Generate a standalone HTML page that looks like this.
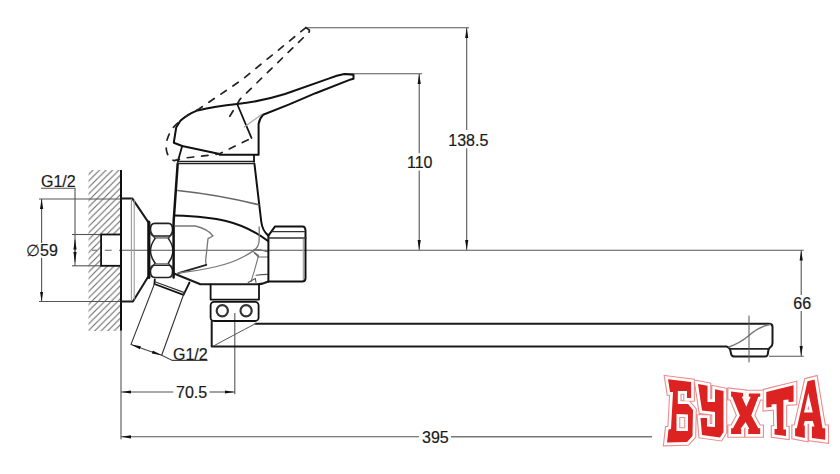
<!DOCTYPE html>
<html><head><meta charset="utf-8">
<style>
html,body{margin:0;padding:0;background:#fff;width:840px;height:474px;overflow:hidden}
svg{display:block}
text{font-family:"Liberation Sans",sans-serif;fill:#1a1a1a;stroke:#1a1a1a;stroke-width:0.2}
</style></head><body>
<svg width="840" height="474" viewBox="0 0 840 474">
<defs>
<pattern id="hatch" patternUnits="userSpaceOnUse" width="6.5" height="6.5" x="3.1" y="0">
<path d="M-1,7.5 L7.5,-1 M-1,1 L1,-1 M5.5,7.5 L7.5,5.5" stroke="#666" stroke-width="1.05"/>
</pattern>
<marker id="ar" viewBox="0 0 10 4" refX="10" refY="2" markerWidth="10" markerHeight="4" markerUnits="userSpaceOnUse" orient="auto-start-reverse">
<path d="M0,0.4 L10,2 L0,3.6 z" fill="#111"/>
</marker>
</defs>

<!-- wall hatch -->
<rect x="88.5" y="170" width="32.5" height="161" fill="url(#hatch)"/>
<rect x="101" y="234.5" width="20" height="31.3" fill="#fff"/>

<g fill="none" stroke="#555" stroke-width="1.1">
<!-- top dims -->
<path d="M305,27.7 H469"/>
<path d="M344,73.7 H422"/>
<path d="M466.7,130 V28" marker-end="url(#ar)"/>
<path d="M466.7,148.3 V250" marker-end="url(#ar)"/>
<path d="M419.2,153.3 V74" marker-end="url(#ar)"/>
<path d="M419.2,170.6 V250" marker-end="url(#ar)"/>
<!-- centerline -->
<path d="M121,250.2 H803.7"/>
<path d="M92,250.3 H97 M104.8,250.3 H111.7 M119,250.3 H121" stroke="#666"/>
<!-- 66 -->
<path d="M801.2,295 V250.5" marker-end="url(#ar)"/>
<path d="M801.2,311 V356" marker-end="url(#ar)"/>
<path d="M769,356.2 H803.7"/>
<!-- 70.5 -->
<path d="M173.3,392 H121" marker-end="url(#ar)"/>
<path d="M209.5,392 H234.6" marker-end="url(#ar)"/>
<path d="M234.8,313 V394.3"/>
<!-- 395 -->
<path d="M419,436.8 H121" marker-end="url(#ar)"/>
<path d="M451,436.8 H652" stroke-width="1.6" stroke="#777"/>
<path d="M121,330 V439.3"/>
<!-- diameter 59 -->
<path d="M39,199 H121"/>
<path d="M39,301.5 H121"/>
<path d="M41.6,243 V199" marker-end="url(#ar)"/>
<path d="M41.6,258 V301.5" marker-end="url(#ar)"/>
<!-- G1/2 top -->
<path d="M41,188.3 H75 V266"/>
<path d="M72,234.5 H101"/>
<path d="M72,265.8 H101"/>
<path d="M75,250 V239.5" marker-end="url(#ar)"/>
<path d="M75,250 V262" marker-end="url(#ar)"/>
</g>

<!-- wall line -->
<path d="M121,170 V330.5" stroke="#111" stroke-width="2" fill="none"/>
<!-- pipe end -->
<rect x="101.1" y="234.5" width="19.8" height="31.3" fill="none" stroke="#111" stroke-width="1.8"/>


<!-- ===== FAUCET ===== -->
<g fill="none" stroke-linejoin="round" stroke-linecap="round">
<!-- flange -->
<path d="M121,198.6 H132.4 L148.6,222.6 V276 L132.9,301.6 H121" stroke="#1a1a1a" stroke-width="2"/>
<path d="M131.4,199 V300 M134.2,200 V299" stroke="#999" stroke-width="1.1"/>
<path d="M148.9,222 V277.5" stroke="#111" stroke-width="3"/>
<!-- nut -->

<path d="M154.8,223.4 H168.4 Q172.6,223.4 172.6,229.6 Q172.6,236.2 168.4,236.2 H154.8 Q150.4,236.2 150.4,229.6 Q150.4,223.4 154.8,223.4 Z" stroke="#222" stroke-width="1.7"/>
<path d="M154.8,265.2 H168.4 Q172.6,265.2 172.6,271.3 Q172.6,277.5 168.4,277.5 H154.8 Q150.4,277.5 150.4,271.3 Q150.4,265.2 154.8,265.2 Z" stroke="#222" stroke-width="1.7"/>
<path d="M155,237.6 H168.4 M155,264 H168.4" stroke="#888" stroke-width="2.2"/>
<path d="M155,238.6 Q146,250.8 155,263 M168.4,238.6 Q177.4,250.8 168.4,263" stroke="#222" stroke-width="1.5"/>
<path d="M150.4,231 L155,238.6 M172.8,231 L168.4,238.6 M150.4,270 L155,263 M172.8,270 L168.4,263" stroke="#333" stroke-width="1.2"/>
<!-- body -->
<path d="M177.7,163.5 L173.6,222 V277.5" stroke="#111" stroke-width="2.5"/>
<path d="M254.4,163.5 L261.3,222 Q262.5,231 268.4,235.6" stroke="#111" stroke-width="2"/>
<path d="M177.7,161.5 H254.4 M177.7,163.6 H254.4" stroke="#222" stroke-width="1.3"/>
<path d="M177.7,190.5 Q220,195 258.6,204.8" stroke="#666" stroke-width="1.6"/>
<path d="M175,215.5 C215,217 240,220 268,241" stroke="#111" stroke-width="2"/>
<path d="M175,226 H195.3 Q208,229 213,236 L208,238.6 L205.6,261 L206.3,264.8" stroke="#777" stroke-width="1.3"/>
<path d="M206.3,264.8 L178.4,273.2" stroke="#222" stroke-width="1.8"/>
<path d="M178,273 Q222,268 241,258 Q253,252 256.5,248 Q259.2,245 259.2,239 V227" stroke="#777" stroke-width="1.3"/>
<path d="M252.7,251.3 L258.6,255.5 L254.4,270.7 L251,281.6" stroke="#777" stroke-width="1.1"/>
<path d="M253.7,249.8 H260 L268,252 M254.5,253 L258.5,257 H268" stroke="#666" stroke-width="1.1"/>
<path d="M248.2,282.5 L255.3,278.4 L256,282.5 M256,275.2 Q262,274.4 267.2,274.4" stroke="#555" stroke-width="1.1"/>

<!-- body bottom -->
<path d="M174,273.5 L200.4,284.3 H257 Q263,284 268.4,281.5" stroke="#1a1a1a" stroke-width="2"/>
<!-- right fitting -->
<path d="M268.4,235.6 L275.1,226.4 H302.6 Q305.5,226.4 305.5,231 V278 Q305.5,281.5 302,281.5 H268.4 Z" stroke="#111" stroke-width="2"/>
<path d="M271.9,231.6 H304.4 M268.4,238 H306" stroke="#333" stroke-width="1.3"/>
<path d="M303.3,239 V279.5" stroke="#999" stroke-width="1.1"/>
<!-- swivel -->
<path d="M210.6,284.3 V299.6 H259 V284.3" stroke="#111" stroke-width="1.8"/>
<rect x="210.6" y="301.9" width="48" height="19.1" rx="3.5" stroke="#111" stroke-width="1.8"/>
<circle cx="222.3" cy="310.8" r="5.6" stroke="#333" stroke-width="2.2"/>
<circle cx="246.1" cy="310.8" r="5.6" stroke="#333" stroke-width="2.2"/>
<!-- spout -->
<path d="M211.7,321 V346.6 H726.5 Q728.5,347 730,349 L731.2,354.3 Q732,356.5 735,356.5 H765 Q767.5,356.5 767.8,354 L768.5,349.5 Q769.5,347.8 770.5,347.2 Q772.5,345.8 772.5,343 V327 Q772.5,323.8 769,323.8 H255.5" stroke="#1a1a1a" stroke-width="2"/>
<path d="M729.5,348.8 H769" stroke="#222" stroke-width="1.8"/>
<path d="M213.5,346 Q232,336 255.5,323.6" stroke="#555" stroke-width="1"/>
<path d="M729,347 Q740,343 749,335.5 Q758,327 770,324.5" stroke="#777" stroke-width="1.5"/>
<path d="M749,316 V362" stroke="#555" stroke-width="1"/>
<!-- handle base collar -->
<path d="M182.2,146 L177.8,161.5 M254,155 V161.5" stroke="#111" stroke-width="1.8"/>
<!-- handle solid -->
<path d="M219.6,153.9 L182.2,146 L173.8,142.7 L176.2,127.5 L180.4,120.8 Q187,114.5 197.5,110.4 Q215,106.5 237.2,104 Q261,101.5 285,94 L328.6,78.6 Q337,75 344.3,73.9 L353.5,74.8 V78.8 L350.8,79.4 L315.5,93.2 L289.3,104.3 L263.1,114.8 Q259.8,118 258.6,124 V154.7 H219.6" stroke="#111" stroke-width="2"/>
<path d="M237.2,104 L251.5,138" stroke="#111" stroke-width="1.8"/>
<path d="M244.3,127 L261.8,114.3" stroke="#aaa" stroke-width="1.2"/>
<!-- handle dashed -->
<path d="M305.9,27.6 L309.3,30 V31.8 L240,99.3 L227.7,119.8" stroke="#222" stroke-width="1.7" stroke-dasharray="6.5 8"/>
<path d="M305.9,27.6 L241.8,79.9 L198,109.6 Q181,118 172,129 Q165,140 166.4,150 Q167.7,158 174,160.6 L186.6,157.8 L219,154 L251.5,138" stroke="#222" stroke-width="1.7" stroke-dasharray="6.5 8"/>
</g>


<!-- angled pipe -->
<g fill="none" stroke-linecap="round">
<path d="M154.8,279.5 L154.4,284 L183.5,294.8 L189.5,282.5" stroke="#111" stroke-width="1.8"/>
<path d="M155.5,282 L184.5,292.6" stroke="#333" stroke-width="1.2"/>
<path d="M154.4,284 L131,344.4 M183.5,294.8 L161.7,355.3" stroke="#333" stroke-width="1.1"/>
<path d="M161.7,355.3 L172.4,360.4 H207" stroke="#444" stroke-width="1.1"/>
</g>
<path d="M146.3,350 L131,344.4" stroke="#444" stroke-width="1.1" marker-end="url(#ar)"/>
<path d="M146.3,350 L161.7,355.3" stroke="#444" stroke-width="1.1" marker-end="url(#ar)"/>


<!-- logo -->
<defs><g id="logo" fill-rule="evenodd" stroke-linejoin="miter" stroke-miterlimit="3">
<path id="L" fill-rule="evenodd" d="
M668,379.2 L691.1,382.1 L691.1,398 L687,398 L687,391 L677.8,391 L677.8,404 L688,404 L693,410 L692.5,436 L687,442 L667,442.5 L668.5,429.5 L671,429 L673,392 L670,392 Z
M676.5,414 L688,414.5 L688,431 L676.5,431 Z
M698,384 L707.5,385.8 L707.5,402 L715,402 L715,389.3 L723.5,391 L723.5,432 L720,437.5 L702,435 L700.5,418 L707,418 L707,426.5 L715,427 L715,412 L702,410.5 Z
M731.1,391.6 L743.1,392.9 L743.1,396.7 L741.8,396.7 L746.3,406.8 L750.7,396.7 L748.8,396.7 L748.8,393.5 L760.2,393.5 L760.2,396.7 L758.3,396.7 L751.3,415.6 L758.3,428.3 L760.2,428.3 L760.2,434 L748.2,434 L748.2,428.9 L749.4,428.9 L745.6,422 L740.5,428.9 L741.2,428.9 L741.2,434 L731.1,434 L731.1,428.3 L733,428.3 L739.9,415.6 L732.3,396.7 L731.1,396.7 Z
M766.3,392 L793.6,385.3 L793.6,401.7 L788.5,402 L788.5,399.5 L783.4,400 L783.4,429.5 L786,429.5 L786,436 L774.5,434.5 L774.5,429 L777,429 L776.5,404 L771.5,404.5 L771.5,407 L766.3,407.5 Z
M807.5,381.3 L814.5,379.5 L822.5,428.2 L825.2,428.2 L825.2,439.7 L811.9,437.9 L811.9,426.4 L814.5,426.4 L812.8,421.1 L804.8,421.1 L803.5,425.5 L804.8,425.5 L804.8,437.9 L795.1,436.1 L795.1,428.2 L796.8,428.2 Z
M808.3,393 L812.8,412.5 L804,412.5 Z
"/>
</g></defs>
<use href="#L" fill="#e8a0a0" stroke="#ec8c8c" stroke-width="7.6"/>
<use href="#L" fill="#fff" stroke="#fff" stroke-width="5.4"/>
<use href="#L" fill="#dd2222" stroke="none"/>

<!-- texts -->
<g font-size="16">
<text x="448.3" y="145.5">138.5</text>
<text x="407" y="168">110</text>
<text x="793.3" y="309">66</text>
<text x="176" y="397.5">70.5</text>
<text x="422" y="443">395</text>
<text x="26" y="256">&#8709;59</text>
<text x="41" y="187">G1/2</text>
<text x="173" y="359.5">G1/2</text>
</g>

</svg>
</body></html>
